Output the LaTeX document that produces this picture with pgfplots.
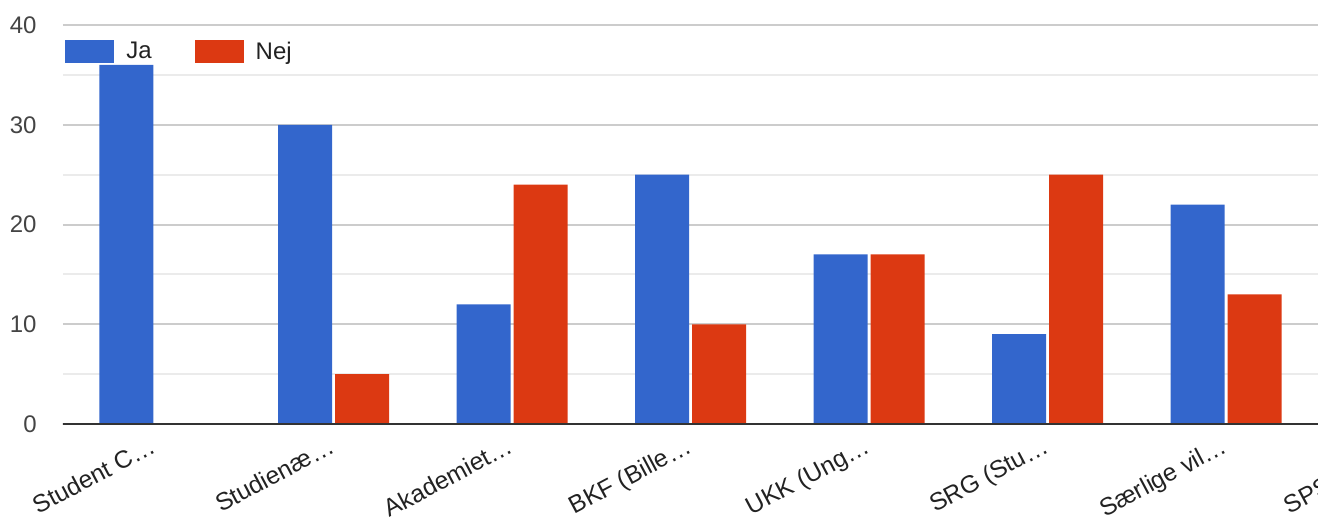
\documentclass[border=0pt]{standalone}
\usepackage{fontspec}
\setmainfont{Liberation Sans}
\usepackage{pgfplots}
\pgfplotsset{compat=1.18}
\definecolor{gblue}{HTML}{3366CC}
\definecolor{gred}{HTML}{DC3912}
\definecolor{majgrid}{HTML}{CCCCCC}
\definecolor{mingrid}{HTML}{EBEBEB}
\definecolor{zeroline}{HTML}{333333}
\definecolor{ticktext}{HTML}{444444}
\definecolor{labtext}{HTML}{222222}
\pgfplotsset{gleg/.style={legend image code/.code={\fill[##1] (0pt,-5.75pt) rectangle (24.5pt,5.75pt);}}}
\begin{document}
\begin{tikzpicture}
\path[use as bounding box] (-31.5pt,-48pt) rectangle (627.5pt,212pt);
\begin{scope}
\clip (-31.5pt,-48pt) rectangle (627.5pt,212pt);
\begin{axis}[
  x=89.25pt, y=4.9875pt,
  xmin=-0.5154, xmax=7.5, ymin=0, ymax=40,
  ybar, bar width=27pt,
  axis line style={draw=none},
  major tick length=0pt, minor tick length=0pt,
  ytick={0,10,20,30,40},
  minor ytick={5,15,25,35},
  ymajorgrids, yminorgrids,
  major grid style={majgrid, line width=1pt},
  minor grid style={mingrid, line width=1pt},
  xtick={0,...,7},
  xticklabels={Student C…, Studienæ…, Akademiet…, BKF (Bille…, UKK (Ung…, SRG (Stu…, Særlige vil…, SPS (Spe…},
  xticklabel style={rotate=28, anchor=base east, inner sep=0pt, xshift=1.5pt, font=\fontsize{12.3}{14}\selectfont, text=labtext},
  xticklabel shift=14.5pt,
  yticklabel style={font=\fontsize{12}{14}\selectfont, text=ticktext, inner sep=0pt, /pgf/number format/assume math mode=true},
  yticklabel shift=13pt,
  legend style={at={(axis description cs:0,1)}, anchor=north west, draw=none, fill=none,
    legend columns=-1, font=\fontsize{12}{14}\selectfont, text=labtext, inner sep=0pt,
    nodes={inner sep=0pt},
    /tikz/every odd column/.append style={column sep=6pt},
    /tikz/every even column/.append style={column sep=21.5pt},
    xshift=1pt, yshift=-7.5pt},
]
\addplot[fill=gblue, draw=none, bar shift=-14.25pt, gleg] coordinates {(0,36) (1,30) (2,12) (3,25) (4,17) (5,9) (6,22)};
\addplot[fill=gred, draw=none, bar shift=14.25pt, gleg] coordinates {(0,0) (1,5) (2,24) (3,10) (4,17) (5,25) (6,13)};
\legend{Ja, Nej}
\draw[zeroline, line width=1.5pt] (axis cs:-0.6,0) -- (axis cs:7.6,0);
\end{axis}
\end{scope}
\end{tikzpicture}
\end{document}
